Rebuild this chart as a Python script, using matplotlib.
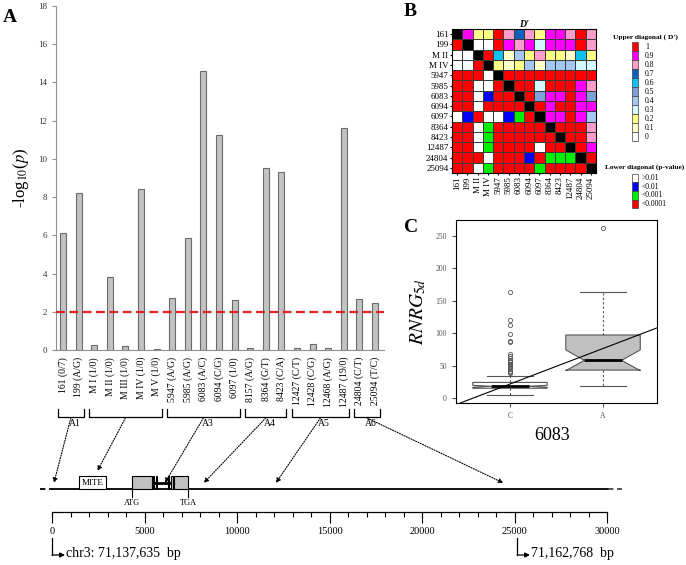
import numpy as np
import matplotlib.pyplot as plt
from matplotlib.patches import Rectangle, ConnectionPatch
from matplotlib.colors import ListedColormap, BoundaryNorm

plt.rcParams['font.family'] = ['Liberation Serif', 'DejaVu Serif']
plt.rcParams['mathtext.fontset'] = 'stix'

# ---- A: association of each polymorphism ----
snp_labels = ["161 (0/7)", "199 (A/G)", "M I (1/0)", "M II (1/0)", "M III (1/0)",
              "M IV (1/0)", "M V (1/0)", "5947 (A/G)", "5985 (A/G)", "6083 (A/C)",
              "6094 (C/G)", "6097 (1/0)", "8157 (A/G)", "8364 (G/T)", "8423 (C/A)",
              "12427 (C/T)", "12428 (C/G)", "12468 (A/G)", "12487 (19/0)",
              "24804 (C/T)", "25094 (T/C)"]
neg_log_p = [6.1, 8.2, 0.25, 3.8, 0.2, 8.45, 0.05, 2.7, 5.85, 14.6, 11.25, 2.6,
             0.1, 9.5, 9.3, 0.1, 0.3, 0.1, 11.6, 2.65, 2.45]
threshold = 2

group_names = ["A1", "", "A3", "A4", "A5", "A6"]
group_first = [0, 2, 7, 12, 15, 19]
group_last = [1, 6, 11, 14, 18, 20]
group_target_bp = [100, 2450, 6100, 8200, 12100, 24400]

# gene model, bp from region start
mite = (1460, 2920)
exons = [(4308, 5389), (5443, 5514), (5622, 5694), (6270, 6342), (6450, 6523), (6595, 7368)]
atg, tga = 4308, 7368
region_len = 30000
region_end_bp = 25133
start_label = "chr3: 71,137,635  bp"
end_label = "71,162,768  bp"

# ---- B: LD heatmap ----
ld_names = ["161", "199", "M II", "M IV", "5947", "5985", "6083", "6094", "6097",
            "8364", "8423", "12487", "24804", "25094"]
# upper triangle D', row i against columns i+1..
dprime_rows = [
    [0.9, 0.2, 0.2, 1, 0.8, 0.7, 0.8, 0.2, 0.9, 0.9, 0.8, 1, 0.8],
    [0, 0, 1, 0.9, 0.8, 0.9, 0.3, 0.9, 0.9, 0.9, 1, 0.8],
    [1, 0.6, 0.1, 0.4, 0.2, 0.8, 0.2, 0.2, 0.1, 0.6, 0.2],
    [0.2, 0.1, 0.2, 0.4, 0.1, 0.4, 0.4, 0.4, 0.3, 0.3],
    [1, 1, 1, 1, 1, 1, 1, 1, 1],
    [1, 1, 0.3, 1, 1, 1, 0.9, 0.8],
    [1, 0.5, 0.9, 0.9, 1, 0.9, 0.5],
    [1, 0.9, 1, 1, 0.9, 0.9],
    [0.9, 0.9, 1, 0.9, 0.4],
    [1, 1, 1, 0.8],
    [1, 1, 0.8],
    [1, 0.9],
    [1],
]
# lower triangle p-value class: 0 >0.01, 1 <0.01, 2 <0.001, 3 <0.0001
pclass_rows = [
    [],
    [3],
    [0, 0],
    [0, 0, 3],
    [3, 3, 3, 0],
    [3, 3, 0, 0, 3],
    [3, 3, 0, 1, 3, 3],
    [3, 3, 0, 3, 3, 3, 3],
    [0, 1, 3, 0, 0, 1, 2, 3],
    [3, 3, 0, 2, 3, 3, 3, 3, 3],
    [3, 3, 0, 2, 3, 3, 3, 3, 3, 3],
    [3, 3, 0, 2, 3, 3, 3, 3, 0, 3, 3],
    [3, 3, 3, 0, 3, 3, 3, 1, 3, 2, 2, 2],
    [3, 3, 0, 2, 3, 3, 3, 3, 2, 3, 3, 3, 3],
]
dprime_levels = ["0", "0.1", "0.2", "0.3", "0.4", "0.5", "0.6", "0.7", "0.8", "0.9", "1"]
dprime_colors = ['#ffffff', '#ffffc8', '#ffff88', '#d4f8ff', '#a4c8f4', '#7f9fd8',
                 '#10c0f0', '#1060c0', '#ff9ccc', '#ff00ff', '#ff0000']
pclass_labels = [">0.01", "<0.01", "<0.001", "<0.0001"]
pclass_colors = ['#ffffff', '#0000ff', '#00ee00', '#ff0000']

# ---- C: boxplot at 6083 ----
box_labels = ["C", "A"]
box_med = [18, 58]
box_q1 = [15, 43]
box_q3 = [24, 97]
box_lo = [5, 19]
box_hi = [34, 163]
box_cilo = [16.5, 42]
box_cihi = [19.5, 74]
box_fliers = [[38, 40, 42, 45, 48, 50, 52, 53, 55, 57, 58, 62, 65, 68, 86, 88, 98, 113, 120, 163],
              [262]]
reg_at_c = 21.5
reg_slope = 54.7

W, H = 686, 565
fig = plt.figure(figsize=(W / 100, H / 100), dpi=100)


def px_axes(x0, y0, x1, y1):
    return fig.add_axes([x0 / W, 1 - y1 / H, (x1 - x0) / W, (y1 - y0) / H])


# ---------------- panel A ----------------
ax = px_axes(56, 6, 384, 350)
x = np.arange(len(neg_log_p))
ax.bar(x, neg_log_p, width=0.38, color='#c2c2c2', edgecolor='#6a6a6a', linewidth=0.8, zorder=2)
ax.axhline(threshold, color='#e02424', ls=(0, (4, 2)), lw=1.6, zorder=3)
ax.set_xlim(-0.45, 20.58)
ax.set_ylim(0, 18)
ax.set_yticks(np.arange(0, 19, 2))
ax.set_xticks(x)
ax.set_xticklabels(snp_labels, rotation=90, fontsize=7)
ax.tick_params(axis='x', length=0, pad=5)
ax.tick_params(axis='y', length=3, labelsize=6.5, color='#909090', labelcolor='#333333')
for s in ['top', 'right']:
    ax.spines[s].set_visible(False)
for s in ['left', 'bottom']:
    ax.spines[s].set_color('#909090')
ax.set_ylabel(r"-log$_{10}$($p$)", fontsize=12)
ax.yaxis.set_label_coords(-0.075, 0.5)
fig.text(10 / W, 1 - 18 / H, "A", fontsize=14, fontweight='bold', ha='center', va='center')

# annotation layer sharing bar x scale, pixel y
ax_ann = fig.add_axes([56 / W, 0, 328 / W, 1])
ax_ann.set_xlim(ax.get_xlim())
ax_ann.set_ylim(H, 0)
ax_ann.axis('off')
ax_ann.patch.set_alpha(0)

# gene layer: bp on x, pixel y
ax_g = fig.add_axes([40 / W, 0, 585 / W, 1])
ax_g.set_xlim(-650, 30970)
ax_g.set_ylim(H, 0)
ax_g.axis('off')
ax_g.patch.set_alpha(0)

line_y, box_top = 489, 476
ax_g.plot([0, 30050], [line_y, line_y], color='k', lw=1.3)
ax_g.plot([-650, 0], [line_y, line_y], color='k', lw=1.3, ls=(0, (3, 2)))
ax_g.plot([30050, 30800], [line_y, line_y], color='#444444', lw=1.3, ls=(0, (3, 2)))
ax_g.add_patch(Rectangle((mite[0], box_top), mite[1] - mite[0], line_y - box_top,
                         fc='white', ec='k', lw=0.8, zorder=3))
ax_g.text((mite[0] + mite[1]) / 2, (box_top + line_y) / 2 + 0.5, "MITE", fontsize=6.5,
          ha='center', va='center', zorder=4)
for (s0, s1), (n0, n1) in zip(exons[:-1], exons[1:]):
    ax_g.plot([s1, n0], [(box_top + line_y) / 2] * 2, color='k', lw=2, zorder=2)
for s0, s1 in exons:
    ax_g.add_patch(Rectangle((s0, box_top), s1 - s0, line_y - box_top,
                             fc='#c0c0c0', ec='k', lw=0.8, zorder=3))
for pos, lab in [(atg, "ATG"), (tga, "TGA")]:
    ax_g.plot([pos, pos], [line_y, line_y + 8], color='k', lw=0.8)
    ax_g.text(pos, line_y + 14, lab, fontsize=6, ha='center', va='center')

# ruler
ruler_y = 512
ax_g.plot([0, region_len], [ruler_y, ruler_y], color='k', lw=0.9)
minor = np.arange(0, region_len + 1, 1000)
major = np.arange(0, region_len + 1, 5000)
ax_g.vlines(minor, ruler_y, ruler_y + 5, color='k', lw=0.8)
ax_g.vlines(major, ruler_y, ruler_y + 11, color='k', lw=0.8)
for m in major:
    ax_g.text(m, 531, f"{m}", fontsize=7.5, ha='center', va='center')

# bent arrows for chromosome coordinates
for pos, lab in [(0, start_label), (region_end_bp, end_label)]:
    ax_g.plot([pos, pos], [538, 555], color='k', lw=0.9)
    ax_g.annotate("", xy=(pos + 700, 555), xytext=(pos, 555),
                  arrowprops=dict(arrowstyle='-|>', color='k', lw=0.9, mutation_scale=7,
                                  shrinkA=0, shrinkB=0))
    ax_g.text(pos + 760, 553, lab, fontsize=10, ha='left', va='center')

# brackets and arrows
for name, f, l, bp in zip(group_names, group_first, group_last, group_target_bp):
    x0, x1 = f - 0.32, l + 0.32
    ax_ann.plot([x0, x0, x1, x1], [409, 417, 417, 409], color='k', lw=0.9)
    cx = (f + l) / 2
    if name:
        ax_ann.text(cx + 0.25, 424, name, fontsize=7, ha='center', va='center')
    in_box = (mite[0] <= bp <= mite[1]) or any(s <= bp <= e for s, e in exons)
    tip = box_top - 5 if in_box else line_y - 6
    con = ConnectionPatch(xyA=(cx, 418), coordsA=ax_ann.transData,
                          xyB=(bp, tip), coordsB=ax_g.transData,
                          arrowstyle='-|>', ls=(0, (1, 1.3)), lw=0.8, color='k',
                          mutation_scale=7, shrinkA=0, shrinkB=0)
    fig.add_artist(con)

# ---------------- panel B ----------------
n = len(ld_names)
idx = np.zeros((n, n), dtype=int)
for i in range(n):
    idx[i, i] = 15
    for k, v in enumerate(dprime_rows[i] if i < len(dprime_rows) else []):
        idx[i, i + 1 + k] = int(round(v * 10))
    for k, c in enumerate(pclass_rows[i]):
        idx[i, k] = 11 + c
cmap = ListedColormap(dprime_colors + pclass_colors + ['#000000'])
norm = BoundaryNorm(np.arange(-0.5, 16.5, 1), cmap.N)

axb = px_axes(452, 29, 596, 173)
axb.pcolormesh(np.arange(n + 1), np.arange(n + 1), idx, cmap=cmap, norm=norm,
               edgecolors='#3a3a3a', linewidth=0.6)
axb.set_xlim(0, n)
axb.set_ylim(n, 0)
axb.set_xticks(np.arange(n) + 0.5)
axb.set_yticks(np.arange(n) + 0.5)
axb.set_xticklabels(ld_names, rotation=90, fontsize=6.5)
axb.set_yticklabels(ld_names, fontsize=6.5)
axb.tick_params(length=1.5, pad=1)
axb.set_title("D'", fontsize=7, fontstyle='italic', fontweight='bold', pad=1.5)
fig.text(410 / W, 1 - 11 / H, "B", fontsize=14, fontweight='bold', ha='center', va='center')

axl = px_axes(600, 25, 686, 215)
axl.set_xlim(600, 686)
axl.set_ylim(215, 25)
axl.axis('off')
axl.text(645, 37, "Upper diagonal ( D')", fontsize=5.3, fontweight='bold',
         ha='center', va='center')
for i, (lab, c) in enumerate(zip(dprime_levels[::-1], dprime_colors[::-1])):
    yc = 47 + 9 * i
    axl.add_patch(Rectangle((632, yc - 4.5), 6, 9, fc=c, ec='#404040', lw=0.5))
    axl.text(645, yc, lab, fontsize=5.5, ha='left', va='center')
axl.text(645, 167, "Lower diagonal (p-value)", fontsize=5.3,
         fontweight='bold', ha='center', va='center')
for i, (lab, c) in enumerate(zip(pclass_labels, pclass_colors)):
    yc = 178 + 8.7 * i
    axl.add_patch(Rectangle((632, yc - 4.35), 6, 8.7, fc=c, ec='#404040', lw=0.5))
    axl.text(642, yc, lab, fontsize=5.5, ha='left', va='center')

# ---------------- panel C ----------------
axc = px_axes(456, 220, 657, 403)
stats = []
for i in range(len(box_labels)):
    stats.append(dict(med=box_med[i], q1=box_q1[i], q3=box_q3[i], whislo=box_lo[i],
                      whishi=box_hi[i], cilo=box_cilo[i], cihi=box_cihi[i],
                      fliers=box_fliers[i], label=box_labels[i]))
bp_art = axc.bxp(stats, positions=[1, 2], widths=0.8, shownotches=True, patch_artist=True,
                 capwidths=[0.5, 0.5],
                 boxprops=dict(edgecolor='#555555', lw=0.8),
                 medianprops=dict(color='k', lw=2),
                 whiskerprops=dict(color='#555555', lw=0.8, ls=(0, (2, 2))),
                 capprops=dict(color='#555555', lw=0.8),
                 flierprops=dict(marker='o', ms=3, mfc='none', mec='#555555', mew=0.6))
for patch, fc in zip(bp_art['boxes'], ['white', '#c0c0c0']):
    patch.set_facecolor(fc)
axc.axline((1, reg_at_c), slope=reg_slope, color='k', lw=0.8)
axc.set_xlim(0.42, 2.58)
axc.set_ylim(-7.7, 274)
axc.set_yticks(np.arange(0, 251, 50))
axc.tick_params(labelsize=5.5, labelcolor='#555555', length=3, color='#555555')
for s in axc.spines.values():
    s.set_linewidth(0.8)
axc.set_xlabel("6083", fontsize=13)
axc.xaxis.set_label_coords(0.48, -0.13)
axc.set_ylabel(r"$RNRG_{5d}$", fontsize=14)
axc.yaxis.set_label_coords(-0.14, 0.5)
fig.text(411 / W, 1 - 227 / H, "C", fontsize=14, fontweight='bold', ha='center', va='center')

fig.savefig("out.png", dpi=100)
